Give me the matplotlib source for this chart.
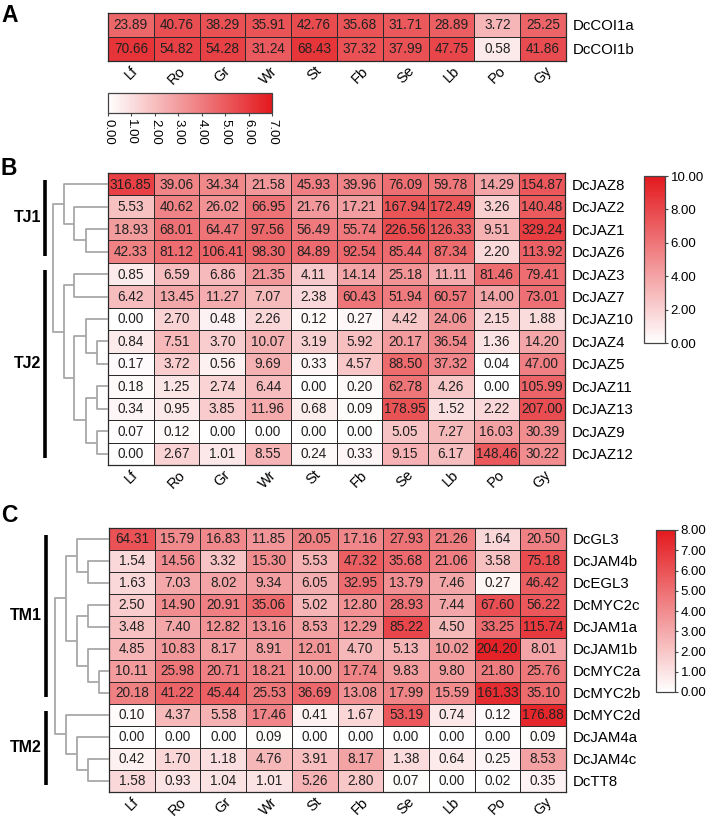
import numpy as np
import matplotlib
matplotlib.use("Agg")
import matplotlib.pyplot as plt
from matplotlib.colors import LinearSegmentedColormap

plt.rcParams['font.family'] = ['Liberation Sans', 'DejaVu Sans']

tissues = ["Lf", "Ro", "Gr", "Wr", "St", "Fb", "Se", "Lb", "Po", "Gy"]

# panel A
coi_genes = ["DcCOI1a", "DcCOI1b"]
coi_tpm = [
    [23.89, 40.76, 38.29, 35.91, 42.76, 35.68, 31.71, 28.89, 3.72, 25.25],
    [70.66, 54.82, 54.28, 31.24, 68.43, 37.32, 37.99, 47.75, 0.58, 41.86],
]

# panel B
jaz_genes = ["DcJAZ8", "DcJAZ2", "DcJAZ1", "DcJAZ6", "DcJAZ3", "DcJAZ7", "DcJAZ10",
             "DcJAZ4", "DcJAZ5", "DcJAZ11", "DcJAZ13", "DcJAZ9", "DcJAZ12"]
jaz_tpm = [
    [316.85, 39.06, 34.34, 21.58, 45.93, 39.96, 76.09, 59.78, 14.29, 154.87],
    [5.53, 40.62, 26.02, 66.95, 21.76, 17.21, 167.94, 172.49, 3.26, 140.48],
    [18.93, 68.01, 64.47, 97.56, 56.49, 55.74, 226.56, 126.33, 9.51, 329.24],
    [42.33, 81.12, 106.41, 98.30, 84.89, 92.54, 85.44, 87.34, 2.20, 113.92],
    [0.85, 6.59, 6.86, 21.35, 4.11, 14.14, 25.18, 11.11, 81.46, 79.41],
    [6.42, 13.45, 11.27, 7.07, 2.38, 60.43, 51.94, 60.57, 14.00, 73.01],
    [0.00, 2.70, 0.48, 2.26, 0.12, 0.27, 4.42, 24.06, 2.15, 1.88],
    [0.84, 7.51, 3.70, 10.07, 3.19, 5.92, 20.17, 36.54, 1.36, 14.20],
    [0.17, 3.72, 0.56, 9.69, 0.33, 4.57, 88.50, 37.32, 0.04, 47.00],
    [0.18, 1.25, 2.74, 6.44, 0.00, 0.20, 62.78, 4.26, 0.00, 105.99],
    [0.34, 0.95, 3.85, 11.96, 0.68, 0.09, 178.95, 1.52, 2.22, 207.00],
    [0.07, 0.12, 0.00, 0.00, 0.00, 0.00, 5.05, 7.27, 16.03, 30.39],
    [0.00, 2.67, 1.01, 8.55, 0.24, 0.33, 9.15, 6.17, 148.46, 30.22],
]
# merges: (child a, child b, height)  -- leaves 0..n-1, new clusters n, n+1, ...
jaz_tree = [(2, 3, 22), (1, 13, 34), (0, 14, 44), (4, 5, 34), (7, 8, 11), (6, 17, 22),
            (9, 10, 11), (11, 12, 11), (19, 20, 22), (18, 21, 34), (16, 22, 44), (15, 23, 55)]
jaz_groups = [("TJ1", 0, 3), ("TJ2", 4, 12)]

# panel C
myc_genes = ["DcGL3", "DcJAM4b", "DcEGL3", "DcMYC2c", "DcJAM1a", "DcJAM1b", "DcMYC2a",
             "DcMYC2b", "DcMYC2d", "DcJAM4a", "DcJAM4c", "DcTT8"]
myc_tpm = [
    [64.31, 15.79, 16.83, 11.85, 20.05, 17.16, 27.93, 21.26, 1.64, 20.50],
    [1.54, 14.56, 3.32, 15.30, 5.53, 47.32, 35.68, 21.06, 3.58, 75.18],
    [1.63, 7.03, 8.02, 9.34, 6.05, 32.95, 13.79, 7.46, 0.27, 46.42],
    [2.50, 14.90, 20.91, 35.06, 5.02, 12.80, 28.93, 7.44, 67.60, 56.22],
    [3.48, 7.40, 12.82, 13.16, 8.53, 12.29, 85.22, 4.50, 33.25, 115.74],
    [4.85, 10.83, 8.17, 8.91, 12.01, 4.70, 5.13, 10.02, 204.20, 8.01],
    [10.11, 25.98, 20.71, 18.21, 10.00, 17.74, 9.83, 9.80, 21.80, 25.76],
    [20.18, 41.22, 45.44, 25.53, 36.69, 13.08, 17.99, 15.59, 161.33, 35.10],
    [0.10, 4.37, 5.58, 17.46, 0.41, 1.67, 53.19, 0.74, 0.12, 176.88],
    [0.00, 0.00, 0.00, 0.09, 0.00, 0.00, 0.00, 0.00, 0.00, 0.09],
    [0.42, 1.70, 1.18, 4.76, 3.91, 8.17, 1.38, 0.64, 0.25, 8.53],
    [1.58, 0.93, 1.04, 1.01, 5.26, 2.80, 0.07, 0.00, 0.02, 0.35],
]
myc_tree = [(1, 2, 21), (0, 12, 32), (3, 4, 21), (6, 7, 10), (5, 15, 21), (14, 16, 32),
            (13, 17, 43), (10, 11, 21), (9, 19, 32), (8, 20, 43), (18, 21, 54)]
myc_groups = [("TM1", 0, 7), ("TM2", 8, 11)]

W, H = 708, 819
fig = plt.figure(figsize=(W / 100, H / 100), dpi=100)


def px_axes(x0, y0, x1, y1):
    return fig.add_axes([x0 / W, 1 - y1 / H, (x1 - x0) / W, (y1 - y0) / H])


cmap = LinearSegmentedColormap.from_list("wr", ["#ffffff", "#e3191e"])


def heatmap(ax, genes, tpm, vmax):
    vals = np.array(tpm)
    z = np.log2(vals + 1)
    m = ax.pcolormesh(z, cmap=cmap, vmin=0, vmax=vmax,
                      edgecolors="#2a2a2a", linewidth=0.7)
    ax.set_xlim(0, len(tissues))
    ax.set_ylim(len(genes), 0)
    for i in range(vals.shape[0]):
        for j in range(vals.shape[1]):
            ax.text(j + 0.5, i + 0.52, f"{vals[i, j]:.2f}", ha="center", va="center",
                    fontsize=9.8, color="#222222")
    ax.set_xticks(np.arange(len(tissues)) + 0.5)
    ax.set_xticklabels(tissues, rotation=45, ha="center", va="top", fontsize=10.5)
    ax.yaxis.tick_right()
    ax.set_yticks(np.arange(len(genes)) + 0.5)
    ax.set_yticklabels(genes, fontsize=10.8)
    ax.tick_params(axis="x", length=0, pad=2)
    ax.tick_params(axis="y", length=0, pad=5)
    for s in ax.spines.values():
        s.set_color("#2a2a2a")
        s.set_linewidth(0.9)
    return m


def dendrogram(ax, tree, n, groups):
    pos = {i: i + 0.5 for i in range(n)}
    hgt = {i: 0.0 for i in range(n)}
    for k, (a, b, h) in enumerate(tree):
        ax.plot([hgt[a], h, h, hgt[b]], [pos[a], pos[a], pos[b], pos[b]],
                color="#a8a8a8", lw=1.3, solid_capstyle="butt")
        pos[n + k] = (pos[a] + pos[b]) / 2
        hgt[n + k] = h
    for name, s, e in groups:
        ax.plot([63, 63], [s + 0.3, e + 1 - 0.3], color="black", lw=2.6,
                solid_capstyle="butt")
        ax.text(67, (s + e + 1) / 2, name, ha="right", va="center",
                fontsize=11.5, fontweight="bold")
    ax.set_xlim(88, 0)
    ax.set_ylim(n, 0)
    ax.axis("off")


def style_cbar(cb):
    cb.outline.set_edgecolor("#444444")
    cb.outline.set_linewidth(0.9)
    cb.ax.tick_params(length=2.5, width=0.8, color="#444444", labelsize=9.5, pad=1.5)


# A
axA = px_axes(108, 13, 566, 61)
mA = heatmap(axA, coi_genes, coi_tpm, 7)
caxA = px_axes(108, 93, 272, 113)
cbA = fig.colorbar(mA, cax=caxA, orientation="horizontal", ticks=range(8))
style_cbar(cbA)
cbA.ax.set_xticklabels([f"{t:.2f}" for t in range(8)], rotation=270)

# B
axB = px_axes(108, 173, 565, 465)
mB = heatmap(axB, jaz_genes, jaz_tpm, 10)
dendrogram(px_axes(20, 173, 108, 465), jaz_tree, len(jaz_genes), jaz_groups)
caxB = px_axes(644, 176, 665, 343)
cbB = fig.colorbar(mB, cax=caxB, ticks=range(0, 11, 2))
style_cbar(cbB)
cbB.ax.set_yticklabels([f"{t:.2f}" for t in range(0, 11, 2)])

# C
axC = px_axes(109, 528, 566, 792)
mC = heatmap(axC, myc_genes, myc_tpm, 8)
dendrogram(px_axes(21, 528, 109, 792), myc_tree, len(myc_genes), myc_groups)
caxC = px_axes(656, 530, 675, 692)
cbC = fig.colorbar(mC, cax=caxC, ticks=range(9))
style_cbar(cbC)
cbC.ax.set_yticklabels([f"{t:.2f}" for t in range(9)])

for letter, ytop in [("A", 4), ("B", 157), ("C", 504)]:
    fig.text(1 / W, 1 - ytop / H, letter, ha="left", va="top",
             fontsize=16.5, fontweight="bold")

fig.savefig("out.png", dpi=100)
